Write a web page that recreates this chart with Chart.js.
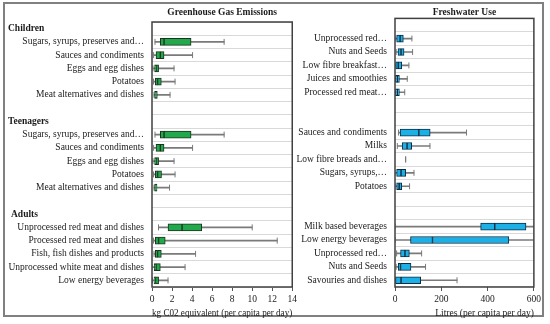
<!DOCTYPE html>
<html lang="en">
<head>
  <meta charset="UTF-8" />
  <title>Greenhouse Gas Emissions and Freshwater Use</title>
  <script src="https://cdn.jsdelivr.net/npm/chart.js"></script>
  <style>
    body {
      margin: 0;
      background: #fff;
    }
    #frame {
      position: absolute;
      left: 3px;
      top: 2px;
      width: 541px;
      height: 315px;
      border: 2px solid #808080;
      box-sizing: border-box;
    }
    #ghgChart { position: absolute; left: 0; top: 0; }
    #waterChart { position: absolute; left: 296px; top: 0; }
  </style>
</head>
<body>
  <div id="frame"></div>
  <canvas id="ghgChart" width="300" height="320"></canvas>
  <canvas id="waterChart" width="248" height="320"></canvas>

  <script>
    // --- Greenhouse gas emissions (kg CO2e per capita per day) ---
    const ghgLabels = [
      '', 'Sugars, syrups, preserves and\u2026', 'Sauces and condiments', 'Eggs and egg dishes', 'Potatoes', 'Meat alternatives and dishes',
      '', '', 'Sugars, syrups, preserves and\u2026', 'Sauces and condiments', 'Eggs and egg dishes', 'Potatoes', 'Meat alternatives and dishes',
      '', '', 'Unprocessed red meat and dishes', 'Processed red meat and dishes', 'Fish, fish dishes and products', 'Unprocessed white meat and dishes', 'Low energy beverages'
    ];
    const headingRows = [0, 7, 14];
    const headingText = ['Children', 'Teenagers', 'Adults'];

    const ghgMin = [null, 0.3, 0.16, 0.1, 0.15, 0.2, null, null, 0.3, 0.16, 0.1, 0.15, 0.2, null, null, 0.65, 0.15, 0.2, 0.0, 0.05];
    const ghgQ1  = [null, 0.83, 0.4, 0.26, 0.33, 0.26, null, null, 0.83, 0.4, 0.26, 0.33, 0.26, null, null, 1.6, 0.33, 0.33, 0.23, 0.2];
    const ghgMed = [null, 1.2, 0.83, 0.4, 0.56, 0.4, null, null, 1.2, 0.83, 0.4, 0.56, 0.4, null, null, 3.0, 0.66, 0.56, 0.4, 0.35];
    const ghgQ3  = [null, 3.9, 1.2, 0.66, 0.93, 0.53, null, null, 3.9, 1.2, 0.66, 0.95, 0.5, null, null, 4.97, 1.32, 0.93, 0.83, 0.66];
    const ghgMax = [null, 7.2, 4.05, 2.2, 2.3, 1.8, null, null, 7.2, 4.05, 2.2, 2.3, 1.75, null, null, 10.0, 12.5, 4.35, 3.3, 1.6];

    // --- Freshwater use (litres per capita per day) ---
    const waterLabels = [
      '', 'Unprocessed red\u2026', 'Nuts and Seeds', 'Low fibre breakfast\u2026', 'Juices and smoothies', 'Processed red meat\u2026',
      '', '', 'Sauces and condiments', 'Milks', 'Low fibre breads and\u2026', 'Sugars, syrups,\u2026', 'Potatoes',
      '', '', 'Milk based beverages', 'Low energy beverages', 'Unprocessed red\u2026', 'Nuts and Seeds', 'Savouries and dishes'
    ];
    const waterMin = [null, 0, 5, 0, 0, 0, null, null, 15, 10, 46, 0, 0, null, null, 0, 0, 7, 5, 0];
    const waterQ1  = [null, 7, 13, 3, 0, 0, null, null, 22, 31, 46, 7, 7, null, null, 370, 67, 24, 14, 0];
    const waterMed = [null, 22, 26, 14, 10, 10, null, null, 103, 52, 46, 26, 18, null, null, 431, 162, 43, 24, 26];
    const waterQ3  = [null, 36, 39, 29, 19, 19, null, null, 152, 72, 46, 46, 29, null, null, 566, 492, 62, 69, 111];
    const waterMax = [null, 73, 76, 60, 53, 42, null, null, 309, 151, 46, 82, 63, null, null, 620, 620, 115, 132, 268];

    const ghgTicks = { min: 0, max: 14, step: 2 };
    const waterTicks = { min: 0, max: 600, step: 200 };

    const FONT = '"Liberation Serif", "Times New Roman", serif';
    const TEXT = '#1a1a1a';

    const framePlugin = {
      id: 'frame',
      afterDraw(chart) {
        const a = chart.chartArea, ctx = chart.ctx;
        ctx.save();
        ctx.strokeStyle = '#404040';
        ctx.lineWidth = 1.5;
        ctx.strokeRect(a.left, a.top, a.right - a.left, a.bottom - a.top);
        ctx.restore();
      }
    };

    const headingPlugin = {
      id: 'headings',
      afterDraw(chart) {
        const ctx = chart.ctx, y = chart.scales.y;
        ctx.save();
        ctx.font = 'bold 9.5px ' + FONT;
        ctx.fillStyle = TEXT;
        ctx.textBaseline = 'middle';
        ctx.textAlign = 'left';
        headingRows.forEach((r, i) => ctx.fillText(headingText[i], i === 2 ? 11 : 8, y.getPixelForValue(r)));
        ctx.restore();
      }
    };

    function boxDatasets(mins, q1, med, q3, maxs, fill, stroke) {
      const pair = (a, b) => a.map((v, i) => v == null ? null : [v, b[i]]);
      const box = {
        type: 'bar', grouped: false, barThickness: 7, order: 0,
        backgroundColor: fill, borderColor: stroke, borderWidth: 1, borderSkipped: false
      };
      const cap = {
        type: 'line', showLine: false, order: 1,
        pointStyle: 'line', rotation: 90, pointRadius: 3, pointHoverRadius: 3,
        pointBorderColor: '#7a7a7a', pointBorderWidth: 1, borderColor: '#7a7a7a'
      };
      return [
        Object.assign({ data: pair(q1, med) }, box),
        Object.assign({ data: pair(med, q3) }, box),
        Object.assign({ data: mins }, cap),
        Object.assign({ data: maxs }, cap),
        {
          type: 'bar', grouped: false, barThickness: 1, order: 2,
          data: pair(mins, maxs), backgroundColor: '#7a7a7a', borderWidth: 0
        }
      ];
    }

    function makeChart(id, labels, datasets, opts) {
      return new Chart(document.getElementById(id), {
        type: 'bar',
        data: { labels: labels, datasets: datasets },
        plugins: opts.plugins,
        options: {
          responsive: false,
          animation: false,
          indexAxis: 'y',
          layout: { padding: { left: 0, right: opts.padRight, top: 0, bottom: 0 } },
          plugins: {
            legend: { display: false },
            tooltip: { enabled: false },
            title: {
              display: true, text: opts.title, fullSize: false, color: TEXT,
              font: { family: FONT, size: 9.5, weight: 'bold', lineHeight: 1.2 },
              padding: { top: 7, bottom: opts.titleGap }
            }
          },
          scales: {
            x: {
              type: 'linear', min: opts.ticks.min, max: opts.ticks.max,
              ticks: { stepSize: opts.ticks.step, color: TEXT, padding: 3, font: { family: FONT, size: 9.5 } },
              grid: { drawOnChartArea: false, drawTicks: true, tickLength: 4, color: '#555' },
              border: { display: false },
              title: {
                display: true, text: opts.xTitle, align: opts.xAlign, color: TEXT,
                font: { family: FONT, size: 9.5 }, padding: { top: 0, bottom: 1 }
              },
              afterFit(s) { s.height = 33; }
            },
            y: {
              ticks: { color: TEXT, padding: 8, autoSkip: false, font: { family: FONT, size: 9.5 } },
              grid: { color: '#d9d9d9', drawTicks: false, offset: true },
              border: { display: false },
              afterFit(s) { s.width = opts.yWidth; }
            }
          }
        }
      });
    }

    makeChart('ghgChart', ghgLabels,
      boxDatasets(ghgMin, ghgQ1, ghgMed, ghgQ3, ghgMax, '#22a94b', '#1b3320'),
      {
        title: 'Greenhouse Gas Emissions', xTitle: 'kg C02 equivalent (per capita per day)', xAlign: 'center',
        ticks: ghgTicks, yWidth: 152, padRight: 0, titleGap: 3.6, plugins: [framePlugin, headingPlugin]
      });

    makeChart('waterChart', waterLabels,
      boxDatasets(waterMin, waterQ1, waterMed, waterQ3, waterMax, '#1cb0e6', '#0d2c40'),
      {
        title: 'Freshwater Use', xTitle: 'Litres (per capita per day)', xAlign: 'end',
        ticks: waterTicks, yWidth: 99, padRight: 10, titleGap: 0, plugins: [framePlugin]
      });
  </script>
</body>
</html>
